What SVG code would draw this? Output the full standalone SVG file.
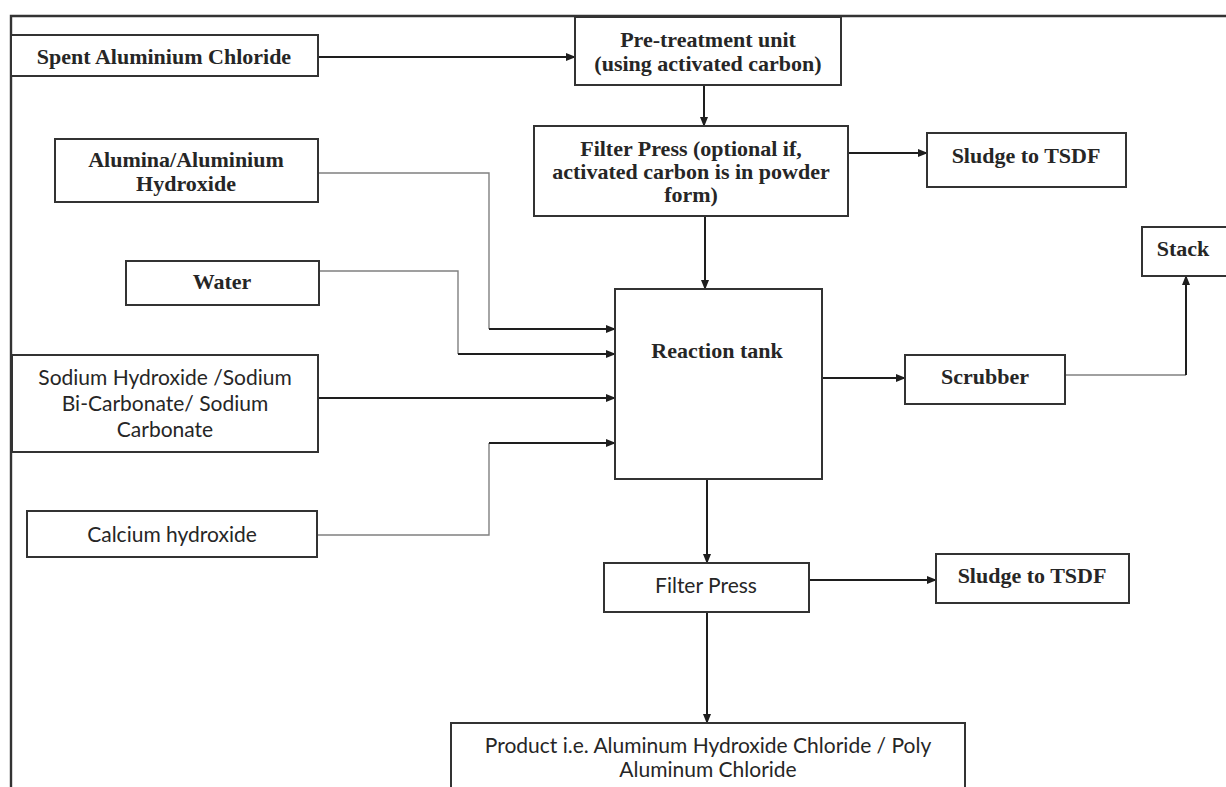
<svg xmlns="http://www.w3.org/2000/svg" width="1226" height="787" viewBox="0 0 1226 787">
<defs>
<marker id="ah" markerUnits="userSpaceOnUse" markerWidth="10" markerHeight="8" refX="9" refY="4" orient="auto">
<path d="M0,0 L10,4 L0,8 z" fill="#1e1e1e"/>
</marker>
<style>
.box{fill:#fff;stroke:#333;stroke-width:2}
.serif{font-family:"Liberation Serif","Times New Roman",serif;font-weight:bold;font-size:22px;fill:#262626;text-anchor:middle;dominant-baseline:central}
.sans{font-family:Lato,"Liberation Sans",sans-serif;font-size:21px;fill:#262626;text-anchor:middle;dominant-baseline:central}
.main{fill:none;stroke:#1e1e1e;stroke-width:2}
.thin{fill:none;stroke:#808080;stroke-width:1.4}
</style>
</defs>
<rect width="1226" height="787" fill="#fff"/>
<path d="M11,787 V16 H1226" fill="none" stroke="#333" stroke-width="2.4"/>

<g id="connectors">
<path class="main" d="M318,57 H575" marker-end="url(#ah)"/>
<path class="main" d="M704,85 V126" marker-end="url(#ah)"/>
<path class="main" d="M848,153 H927" marker-end="url(#ah)"/>
<path class="main" d="M705,216 V289" marker-end="url(#ah)"/>
<path class="thin" d="M318,173 H489 V329"/>
<path class="main" d="M489,329 H615" marker-end="url(#ah)"/>
<path class="thin" d="M319,271 H458 V354"/>
<path class="main" d="M458,354 H615" marker-end="url(#ah)"/>
<path class="main" d="M318,398 H615" marker-end="url(#ah)"/>
<path class="thin" d="M317,535 H489 V443"/>
<path class="main" d="M489,443 H615" marker-end="url(#ah)"/>
<path class="main" d="M822,378 H905" marker-end="url(#ah)"/>
<path class="thin" d="M1065,375 H1186"/>
<path class="main" d="M1186,375 V276" marker-end="url(#ah)"/>
<path class="main" d="M707,479 V563" marker-end="url(#ah)"/>
<path class="main" d="M809,580 H936" marker-end="url(#ah)"/>
<path class="main" d="M707,612 V723" marker-end="url(#ah)"/>
</g>

<g id="spent">
<rect class="box" x="11" y="35" width="307" height="41"/>
<text class="serif" x="164" y="56">Spent Aluminium Chloride</text>
</g>
<g id="pretreatment">
<rect class="box" x="575" y="17" width="266" height="68"/>
<text class="serif" x="708" y="39">Pre-treatment unit</text>
<text class="serif" x="708" y="63">(using activated carbon)</text>
</g>
<g id="filterpress1">
<rect class="box" x="534" y="126" width="314" height="90"/>
<text class="serif" x="691" y="148">Filter Press (optional if,</text>
<text class="serif" x="691" y="171">activated carbon is in powder</text>
<text class="serif" x="691" y="194">form)</text>
</g>
<g id="sludge1">
<rect class="box" x="927" y="133" width="199" height="54"/>
<text class="serif" x="1026" y="155">Sludge to TSDF</text>
</g>
<g id="alumina">
<rect class="box" x="55" y="139" width="263" height="63"/>
<text class="serif" x="186" y="159">Alumina/Aluminium</text>
<text class="serif" x="186" y="183">Hydroxide</text>
</g>
<g id="water">
<rect class="box" x="126" y="261" width="193" height="44"/>
<text class="serif" x="222" y="281">Water</text>
</g>
<g id="sodium">
<rect class="box" x="12" y="355" width="306" height="97"/>
<text class="sans" x="165" y="376">Sodium Hydroxide /Sodium</text>
<text class="sans" x="165" y="402">Bi-Carbonate/ Sodium</text>
<text class="sans" x="165" y="428">Carbonate</text>
</g>
<g id="calcium">
<rect class="box" x="27" y="511" width="290" height="46"/>
<text class="sans" x="172" y="533">Calcium hydroxide</text>
</g>
<g id="reaction">
<rect class="box" x="615" y="289" width="207" height="190"/>
<text class="serif" x="717" y="350">Reaction tank</text>
</g>
<g id="scrubber">
<rect class="box" x="905" y="355" width="160" height="49"/>
<text class="serif" x="985" y="376">Scrubber</text>
</g>
<g id="stack">
<rect class="box" x="1142" y="227" width="92" height="49"/>
<text class="serif" x="1183" y="248">Stack</text>
</g>
<g id="filterpress2">
<rect class="box" x="604" y="563" width="205" height="49"/>
<text class="sans" x="706" y="584">Filter Press</text>
</g>
<g id="sludge2">
<rect class="box" x="936" y="554" width="193" height="49"/>
<text class="serif" x="1032" y="575">Sludge to TSDF</text>
</g>
<g id="product">
<rect class="box" x="451" y="723" width="514" height="80"/>
<text class="sans" x="708" y="744">Product i.e. Aluminum Hydroxide Chloride / Poly</text>
<text class="sans" x="708" y="768">Aluminum Chloride</text>
</g>
</svg>
